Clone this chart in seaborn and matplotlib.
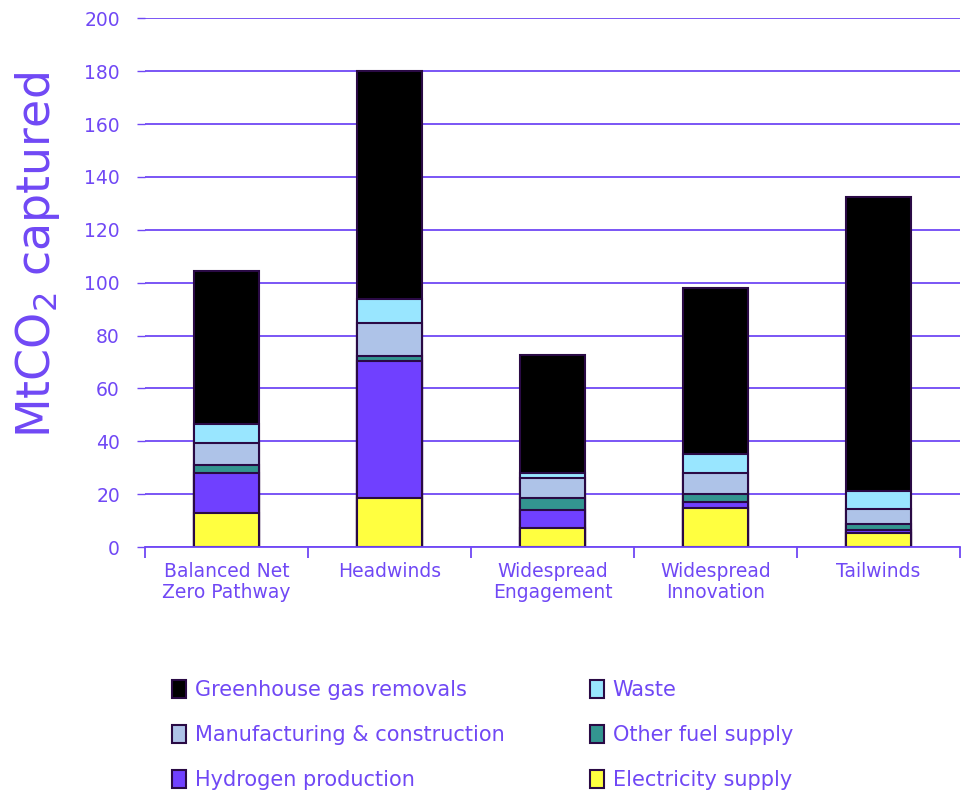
import matplotlib
matplotlib.use("Agg")
import matplotlib.pyplot as plt
import seaborn as sns
import pandas as pd
import numpy as np
from matplotlib.patches import Patch

scenarios = ["Balanced Net\nZero Pathway", "Headwinds", "Widespread\nEngagement",
             "Widespread\nInnovation", "Tailwinds"]
electricity = [13.0, 18.4, 7.3, 14.9, 5.2]
hydrogen = [15.1, 51.9, 6.9, 2.2, 1.2]
other_fuel = [2.9, 1.9, 4.2, 2.9, 2.3]
manufacturing = [8.4, 12.6, 7.8, 8.2, 5.7]
waste = [7.0, 9.2, 2.0, 7.0, 6.8]
ggr = [58.0, 86.0, 44.3, 62.7, 111.1]

sectors = ["Electricity supply", "Hydrogen production", "Other fuel supply",
           "Manufacturing & construction", "Waste", "Greenhouse gas removals"]
values = [electricity, hydrogen, other_fuel, manufacturing, waste, ggr]
colors = ["#FFFF40", "#7040FF", "#339590", "#AEC3E8", "#99E6FF", "#000000"]

purple = "#7048F5"
edge = "#2A0A45"

sns.set_theme(style="white")
plt.rcParams["font.family"] = ["DejaVu Sans"]
plt.rcParams["mathtext.default"] = "regular"

fig = plt.figure(figsize=(9.62, 7.94), dpi=100)
ax = fig.add_axes([0.1507, 0.311, 0.8473, 0.666])

cum = np.cumsum(np.array(values), axis=0)
for i in range(len(sectors) - 1, -1, -1):
    df = pd.DataFrame({"scenario": scenarios, "value": cum[i]})
    sns.barplot(data=df, x="scenario", y="value", color=colors[i], width=0.4,
                edgecolor=edge, linewidth=1.5, saturation=1, ax=ax, zorder=3)

ax.set_ylim(0, 200)
ax.set_xlim(-0.5, 4.5)
ax.set_yticks(range(0, 201, 20))
ax.yaxis.grid(True, color=purple, linewidth=1.3, zorder=0)
ax.xaxis.grid(False)
for s in ["top", "right", "left"]:
    ax.spines[s].set_visible(False)
ax.spines["bottom"].set_color(purple)
ax.spines["bottom"].set_linewidth(1.3)
ax.spines["bottom"].set_zorder(4)
ax.tick_params(axis="y", colors=purple, labelsize=13.5, length=6, width=1, left=True, pad=12)
ax.tick_params(axis="x", which="major", colors=purple, labelsize=13.5, length=0, pad=11)
ax.set_xticks(np.arange(-0.5, 5, 1), minor=True)
ax.tick_params(axis="x", which="minor", length=8, color=purple, width=1.3, bottom=True)
for t in ax.get_xticklabels():
    t.set_linespacing(1.1)
ax.set_xlabel("")
ax.set_ylabel(r"MtCO$_2$ captured", color=purple, fontsize=33)
ax.yaxis.set_label_coords(-0.102, 0.552)

order = [5, 3, 1, 4, 2, 0]
handles = [Patch(facecolor=colors[i], edgecolor=edge, linewidth=1.5) for i in order]
labels = [sectors[i] for i in order]
leg = fig.legend(handles, labels, ncol=2, loc="upper left", bbox_to_anchor=(0.159, 0.167),
                 frameon=False, fontsize=15, labelspacing=1.2, columnspacing=4.1,
                 handlelength=0.7, handleheight=0.9, handletextpad=0.4)
for t in leg.get_texts():
    t.set_color(purple)

fig.savefig("out.png", dpi=100)
